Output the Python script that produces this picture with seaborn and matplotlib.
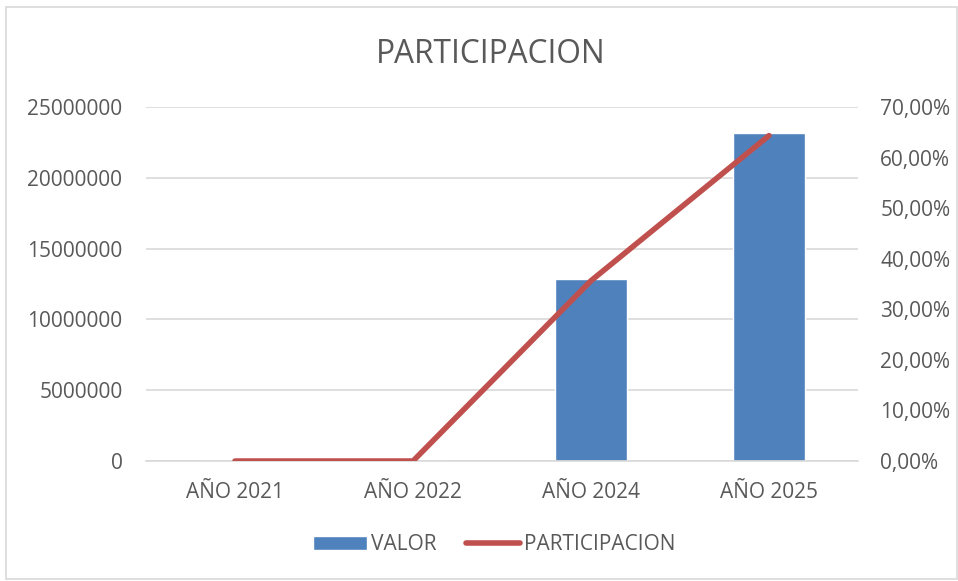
#!/usr/bin/env python3
# Combo chart: VALOR bars + PARTICIPACION line on secondary axis

import pandas as pd
import matplotlib.pyplot as plt
import matplotlib.ticker as mticker
import seaborn as sns
from matplotlib.lines import Line2D
from matplotlib.patches import Patch, Rectangle

# ============================================================================
# DATA
# ============================================================================
years = ["AÑO 2021", "AÑO 2022", "AÑO 2024", "AÑO 2025"]
valor = [0, 0, 12820000, 23140000]
participacion = [0.0, 0.0, 0.3565, 0.6435]

df = pd.DataFrame({"year": years, "valor": valor, "participacion": participacion})

# ============================================================================
# THEME SETTINGS
# ============================================================================
sns.set_theme(style="white")
plt.rcParams['font.family'] = ['Open Sans', 'DejaVu Sans']
text_color = '#595959'
bar_color = '#4F81BD'
line_color = '#C0504D'

# ============================================================================
# CREATE PLOT
# ============================================================================
fig = plt.figure(figsize=(9.58, 5.81), dpi=100)
ax = fig.add_axes([0.1524, 0.2065, 0.7432, 0.6093])

sns.barplot(data=df, x="year", y="valor", color=bar_color,
            width=0.4, saturation=1, ax=ax, zorder=2)
ax.set_ylim(0, 25000000)
ax.set_xlim(-0.5, 3.5)
ax.yaxis.set_major_locator(mticker.MultipleLocator(5000000))
ax.yaxis.set_major_formatter(mticker.FuncFormatter(lambda v, p: f"{int(v)}"))
ax.grid(axis='y', color='#D9D9D9', linewidth=1.2, zorder=0)
ax.set_axisbelow(True)
for s in ['top', 'right', 'left']:
    ax.spines[s].set_visible(False)
ax.spines['bottom'].set_color('#D9D9D9')
ax.spines['bottom'].set_linewidth(1.2)
ax.set_xlabel("")
ax.set_ylabel("")
ax.tick_params(axis='both', length=0, colors=text_color)
ax.tick_params(axis='x', pad=15, labelsize=15)
ax.tick_params(axis='y', pad=17, labelsize=15)

ax2 = ax.twinx()
sns.lineplot(x=range(len(years)), y=participacion, color=line_color,
             linewidth=4, solid_capstyle='round', ax=ax2)
ax2.set_ylim(0, 0.7)
ax2.yaxis.set_major_locator(mticker.MultipleLocator(0.1))
ax2.yaxis.set_major_formatter(
    mticker.FuncFormatter(lambda v, p: f"{v*100:.2f}%".replace('.', ',')))
for s in ax2.spines.values():
    s.set_visible(False)
ax2.tick_params(axis='y', length=0, labelsize=15, colors=text_color, pad=16)

fig.suptitle("PARTICIPACION", x=0.512, y=0.935, fontsize=22.8, color=text_color)

handles = [Patch(facecolor=bar_color, label="VALOR"),
           Line2D([0], [0], color=line_color, linewidth=4,
                  solid_capstyle='round', label="PARTICIPACION")]
leg = fig.legend(handles=handles, loc='center', bbox_to_anchor=(0.5157, 0.062),
                 ncol=2, frameon=False, fontsize=15, handlelength=2.6,
                 handleheight=0.7, columnspacing=1.4, handletextpad=0.2)
for t in leg.get_texts():
    t.set_color(text_color)

# chart border
fig.patches.append(Rectangle((0.006, 0.003), 0.993, 0.985, transform=fig.transFigure,
                             fill=False, edgecolor='#D9D9D9', linewidth=1.2))

# ============================================================================
# SAVE OUTPUT
# ============================================================================
plt.savefig("out.png", dpi=100)
plt.close()
